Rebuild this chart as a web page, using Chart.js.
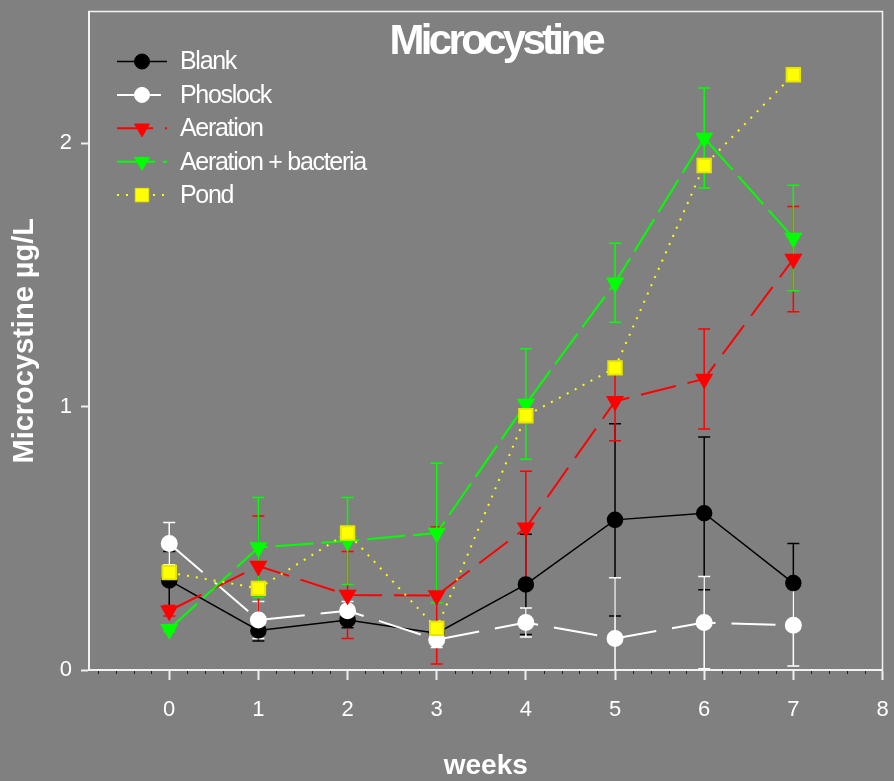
<!DOCTYPE html>
<html>
<head>
<meta charset="utf-8">
<title>Microcystine</title>
<script src="https://cdn.jsdelivr.net/npm/chart.js@4.4.1/dist/chart.umd.min.js"></script>
<style>
  html, body { margin: 0; padding: 0; background: #808080; }
  #wrap { width: 894px; height: 781px; position: relative; }
</style>
</head>
<body>
<div id="wrap"><canvas id="microChart"></canvas></div>
<script>
// data (µg/L per week)
const weeks = [0, 1, 2, 3, 4, 5, 6, 7];
const seriesNames = ['Blank', 'Phoslock', 'Aeration', 'Aeration + bacteria', 'Pond'];

const blank = [0.34, 0.15, 0.19, 0.14, 0.325, 0.57, 0.595, 0.33];
const blankErr = [0.11, 0.04, 0.03, 0.03, 0.19, 0.365, 0.29, 0.15];

const phoslock = [0.48, 0.19, 0.225, 0.115, 0.18, 0.12, 0.18, 0.17];
const phoslockErr = [0.08, 0.07, 0.035, 0.03, 0.055, 0.23, 0.175, 0.155];

const aeration = [0.225, 0.395, 0.285, 0.283, 0.54, 1.02, 1.105, 1.56];
const aerationErr = [0.02, 0.19, 0.165, 0.26, 0.215, 0.15, 0.19, 0.2];

const aerBact = [0.155, 0.465, 0.49, 0.52, 1.01, 1.47, 2.02, 1.64];
const aerBactErr = [0.01, 0.19, 0.165, 0.265, 0.21, 0.15, 0.19, 0.2];

const pond = [0.37, 0.31, 0.52, 0.158, 0.965, 1.147, 1.915, 2.26];

const xTickValues = [0, 1, 2, 3, 4, 5, 6, 7, 8];
const yTickValues = [0, 1, 2];

const FONT = "'Liberation Sans', Arial, sans-serif";

function toPoints(values) {
    return weeks.map((w, i) => ({ x: w, y: values[i] }));
}

// keep the plot box where the original has it (no room reserved for edge labels)
function noEdgePadding(scale) {
    scale.paddingTop = 0;
    scale.paddingBottom = 0;
    scale.paddingLeft = 0;
    scale.paddingRight = 0;
}

// error bars drawn through the chart scales
const errorBars = {
    id: 'errorBars',
    beforeDatasetsDraw(chart) {
        const ctx = chart.ctx;
        const xs = chart.scales.x, ys = chart.scales.y;
        const area = chart.chartArea;
        ctx.save();
        ctx.beginPath();
        ctx.rect(area.left, area.top, area.right - area.left, area.bottom - area.top);
        ctx.clip();
        chart.data.datasets.forEach((ds) => {
            if (!ds.errors) return;
            ctx.strokeStyle = ds.borderColor;
            ctx.lineWidth = 1.5;
            ds.data.forEach((p, i) => {
                const e = ds.errors[i];
                if (!e) return;
                const x = xs.getPixelForValue(p.x);
                const yHi = ys.getPixelForValue(p.y + e);
                const yLo = ys.getPixelForValue(p.y - e);
                ctx.beginPath();
                ctx.moveTo(x, yHi); ctx.lineTo(x, yLo);
                ctx.moveTo(x - 6, yHi); ctx.lineTo(x + 6, yHi);
                ctx.moveTo(x - 6, yLo); ctx.lineTo(x + 6, yLo);
                ctx.stroke();
            });
        });
        ctx.restore();
    }
};

// grey background, frame, minor ticks, title and legend
const decorations = {
    id: 'decorations',
    beforeDraw(chart) {
        const ctx = chart.ctx;
        ctx.save();
        ctx.fillStyle = '#808080';
        ctx.fillRect(0, 0, chart.width, chart.height);
        ctx.restore();
    },
    afterDraw(chart) {
        const ctx = chart.ctx;
        const a = chart.chartArea;
        const xs = chart.scales.x;
        ctx.save();

        // frame round the plot
        ctx.strokeStyle = '#f2f2f2';
        ctx.lineWidth = 1.5;
        ctx.strokeRect(a.left, a.top, a.right - a.left, a.bottom - a.top);

        // minor ticks on the week axis
        ctx.strokeStyle = '#222';
        ctx.lineWidth = 1;
        ctx.beginPath();
        for (let k = -4; k <= 39; k++) {
            if (k % 5 === 0) continue;
            const px = Math.round(xs.getPixelForValue(k / 5)) + 0.5;
            ctx.moveTo(px, a.bottom + 1);
            ctx.lineTo(px, a.bottom + 4);
        }
        ctx.stroke();

        // title inside the plot
        ctx.fillStyle = '#ffffff';
        ctx.font = 'bold 42px ' + FONT;
        ctx.letterSpacing = '-3.7px';
        ctx.textAlign = 'center';
        ctx.textBaseline = 'alphabetic';
        ctx.fillText('Microcystine', (a.left + a.right) / 2 + 10, 54);

        // legend: line sample with marker, then name
        ctx.font = '25px ' + FONT;
        ctx.letterSpacing = '-1.3px';
        ctx.textAlign = 'left';
        ctx.textBaseline = 'middle';
        chart.data.datasets.forEach((ds, i) => {
            const y = 61.5 + i * 33.4;
            ctx.save();
            ctx.strokeStyle = ds.borderColor;
            ctx.lineWidth = ds.borderWidth;
            ctx.setLineDash(ds.borderDash || []);
            ctx.beginPath();
            ctx.moveTo(117, y);
            ctx.lineTo(167, y);
            ctx.stroke();
            ctx.setLineDash([]);
            ctx.fillStyle = ds.pointBackgroundColor;
            ctx.strokeStyle = ds.pointBorderColor;
            ctx.lineWidth = 1;
            Chart.helpers.drawPoint(ctx, {
                pointStyle: ds.pointStyle,
                rotation: ds.pointRotation || 0,
                radius: ds.pointRadius,
                borderWidth: 1
            }, 142, y);
            ctx.restore();
            ctx.fillText(seriesNames[i], 180, y + 1);
        });
        ctx.restore();
    }
};

const ctx = document.getElementById('microChart').getContext('2d');

new Chart(ctx, {
    type: 'line',
    data: {
        datasets: [
            {
                label: seriesNames[0],
                data: toPoints(blank),
                errors: blankErr,
                borderColor: '#000000',
                borderWidth: 1.5,
                pointStyle: 'circle',
                pointRadius: 7.5,
                pointBackgroundColor: '#000000',
                pointBorderColor: '#000000',
                order: 5
            },
            {
                label: seriesNames[1],
                data: toPoints(phoslock),
                errors: phoslockErr,
                borderColor: '#ffffff',
                borderWidth: 2,
                borderDash: [44, 16],
                pointStyle: 'circle',
                pointRadius: 7.5,
                pointBackgroundColor: '#ffffff',
                pointBorderColor: '#ffffff',
                order: 4
            },
            {
                label: seriesNames[2],
                data: toPoints(aeration),
                errors: aerationErr,
                borderColor: '#ff0000',
                borderWidth: 2,
                borderDash: [36, 12],
                pointStyle: 'triangle',
                pointRotation: 180,
                pointRadius: 8.5,
                pointBackgroundColor: '#ff0000',
                pointBorderColor: '#ff0000',
                order: 3
            },
            {
                label: seriesNames[3],
                data: toPoints(aerBact),
                errors: aerBactErr,
                borderColor: '#00ff00',
                borderWidth: 2,
                borderDash: [38, 8],
                pointStyle: 'triangle',
                pointRotation: 180,
                pointRadius: 8.5,
                pointBackgroundColor: '#00ff00',
                pointBorderColor: '#00ff00',
                order: 2
            },
            {
                label: seriesNames[4],
                data: toPoints(pond),
                borderColor: '#ffff00',
                borderWidth: 2,
                borderDash: [2, 7],
                pointStyle: 'rect',
                pointRadius: 9.5,
                pointBackgroundColor: '#ffff00',
                pointBorderColor: '#e6e600',
                order: 1
            }
        ]
    },
    options: {
        responsive: true,
        maintainAspectRatio: false,
        animation: false,
        layout: { padding: { top: 7, right: 11, left: 0, bottom: 0 } },
        elements: {
            line: { tension: 0, fill: false },
            point: { borderWidth: 1, hoverRadius: 8 }
        },
        plugins: {
            legend: { display: false },
            title: { display: false },
            tooltip: { enabled: false }
        },
        scales: {
            x: {
                type: 'linear',
                position: 'bottom',
                min: -0.9,
                max: 8,
                afterBuildTicks: (scale) => { scale.ticks = xTickValues.map(v => ({ value: v })); },
                afterFit: (scale) => { scale.height = 111; noEdgePadding(scale); },
                ticks: {
                    color: '#ffffff',
                    font: { family: FONT, size: 22 },
                    padding: 17,
                    maxRotation: 0
                },
                grid: {
                    drawOnChartArea: false,
                    drawTicks: true,
                    tickLength: 10,
                    tickColor: '#eeeeee',
                    tickWidth: 2
                },
                border: { display: true, color: '#f2f2f2', width: 2 },
                title: {
                    display: true,
                    text: 'weeks',
                    color: '#ffffff',
                    font: { family: FONT, size: 28, weight: 'bold' },
                    padding: { top: 0, bottom: -2 }
                }
            },
            y: {
                type: 'linear',
                min: 0,
                max: 2.5,
                afterBuildTicks: (scale) => { scale.ticks = yTickValues.map(v => ({ value: v })); },
                afterFit: (scale) => { scale.width = 89; noEdgePadding(scale); },
                ticks: {
                    color: '#ffffff',
                    font: { family: FONT, size: 22 },
                    padding: 9
                },
                grid: {
                    drawOnChartArea: false,
                    drawTicks: true,
                    tickLength: 8,
                    tickColor: '#eeeeee',
                    tickWidth: 2
                },
                border: { display: true, color: '#f2f2f2', width: 2 },
                title: {
                    display: true,
                    text: 'Microcystine µg/L',
                    color: '#ffffff',
                    font: { family: FONT, size: 29, weight: 'bold' },
                    padding: { top: 8, bottom: 0 }
                }
            }
        }
    },
    plugins: [errorBars, decorations]
});
</script>
</body>
</html>
